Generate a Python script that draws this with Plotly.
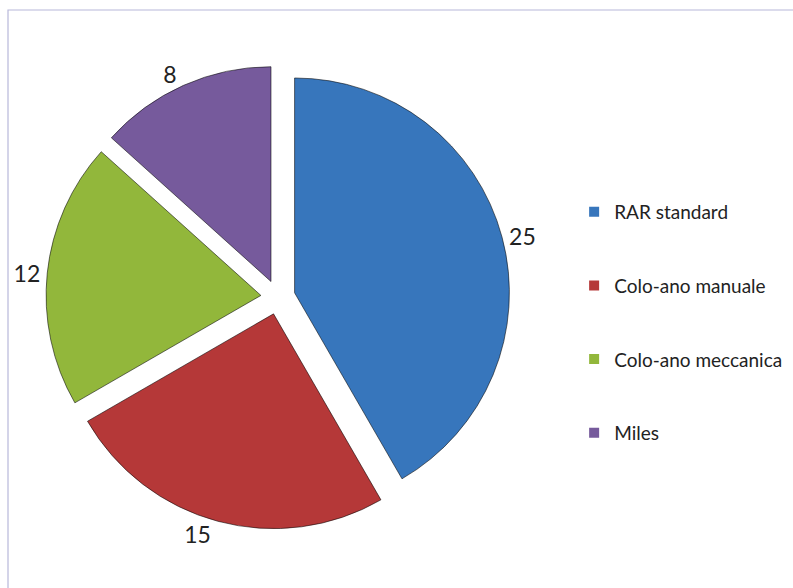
import plotly.graph_objects as go

categories = ["RAR standard", "Colo-ano manuale", "Colo-ano meccanica", "Miles"]
values = [25, 15, 12, 8]
colors = ["#3776bc", "#b53838", "#92b73b", "#765a9c"]

fig = go.Figure()

fig.add_trace(go.Pie(
    labels=categories,
    values=values,
    sort=False,
    direction="clockwise",
    rotation=0,
    pull=[0.08, 0.08, 0.08, 0.08],
    marker=dict(colors=colors, line=dict(color="rgba(0,0,0,0.55)", width=1)),
    texttemplate="%{value}",
    textposition="outside",
    textfont=dict(size=23, color="#222222", family="Lato, Open Sans, sans-serif"),
    showlegend=False,
    hoverinfo="label+value",
    automargin=False,
    domain=dict(x=[0.0580, 0.6431], y=[0.0950, 0.8940]),
))

# legend entries
for name, col in zip(categories, colors):
    fig.add_trace(go.Scatter(
        x=[None], y=[None], mode="markers", name=name,
        marker=dict(symbol="square", size=10, color=col),
        legendgroup=name, showlegend=True,
    ))

fig.update_layout(
    width=793, height=588,
    margin=dict(l=0, r=0, t=0, b=0, pad=0, autoexpand=False),
    paper_bgcolor="white", plot_bgcolor="white",
    font=dict(family="Lato, Open Sans, sans-serif", color="#222222"),
    xaxis=dict(visible=False), yaxis=dict(visible=False),
    legend=dict(
        x=0.724, y=0.672, xanchor="left", yanchor="top",
        font=dict(size=19, color="#222222"),
        tracegroupgap=46, itemsizing="trace",
        bgcolor="rgba(0,0,0,0)",
    ),
    shapes=[dict(
        type="rect", xref="paper", yref="paper",
        x0=0.0101, x1=1.02, y0=-0.02, y1=0.983,
        line=dict(color="#b8b8da", width=1.2), fillcolor="rgba(0,0,0,0)",
        layer="below",
    )],
)

fig.write_html("out.html", config={"displayModeBar": False},
               post_script="document.body.style.margin='0';")
